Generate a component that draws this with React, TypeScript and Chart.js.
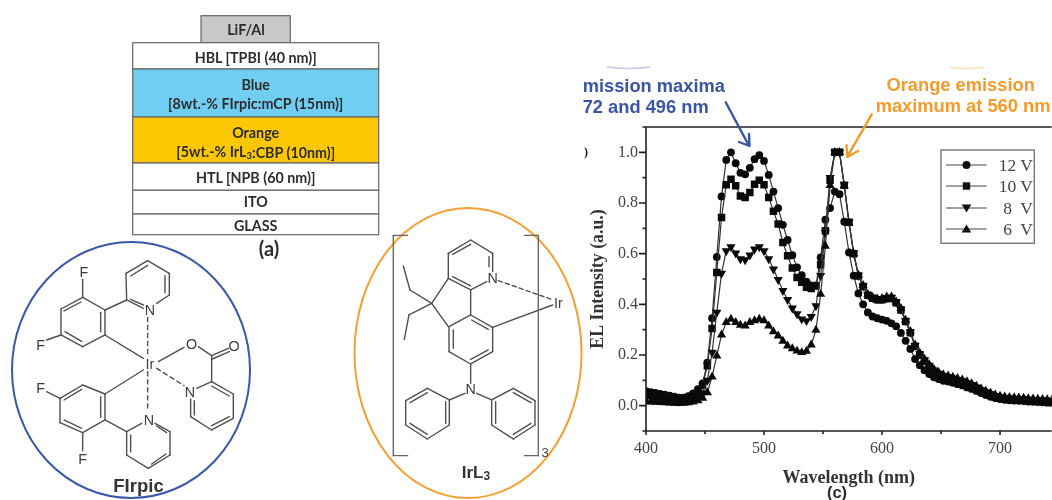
import React, { useEffect, useRef } from "react";
import { Chart, registerables } from "chart.js";

Chart.register(...registerables);

const wavelengths = [
  400, 404, 408, 412, 416, 420, 424, 428, 432, 436, 440, 444, 448, 452, 456, 460, 464, 468, 472, 476, 480, 484,
  488, 492, 496, 500, 504, 508, 512, 516, 520, 524, 528, 532, 536, 540, 544, 548, 552, 556, 560, 564, 568, 572,
  576, 580, 584, 588, 592, 596, 600, 604, 608, 612, 616, 620, 624, 628, 632, 636, 640, 644, 648, 652, 656, 660,
  664, 668, 672, 676, 680, 684, 688, 692, 696, 700, 704, 708, 712, 716, 720, 724, 728, 732, 736, 740, 744,
];
const v12 = [
  0.057, 0.053, 0.05, 0.046, 0.043, 0.04, 0.036, 0.032, 0.032, 0.038, 0.048, 0.065, 0.088, 0.17, 0.345, 0.587, 0.826, 0.97, 1.0, 0.957, 0.919, 0.913,
  0.939, 0.973, 0.989, 0.966, 0.911, 0.845, 0.78, 0.714, 0.654, 0.594, 0.546, 0.515, 0.49, 0.475, 0.475, 0.585, 0.734, 0.78, 0.845, 0.835, 0.726, 0.605,
  0.513, 0.443, 0.4, 0.368, 0.352, 0.345, 0.34, 0.335, 0.325, 0.313, 0.287, 0.256, 0.224, 0.184, 0.16, 0.14, 0.125, 0.112, 0.105, 0.098, 0.095, 0.09,
  0.085, 0.08, 0.072, 0.066, 0.058, 0.05, 0.042, 0.035, 0.03, 0.026, 0.023, 0.021, 0.02, 0.019, 0.018, 0.016, 0.015, 0.014, 0.013, 0.012, 0.011,
];
const v10 = [
  0.047, 0.044, 0.041, 0.038, 0.035, 0.032, 0.029, 0.027, 0.028, 0.033, 0.042, 0.056, 0.08, 0.158, 0.305, 0.526, 0.743, 0.872, 0.894, 0.868, 0.828, 0.822,
  0.841, 0.874, 0.89, 0.872, 0.822, 0.767, 0.717, 0.644, 0.592, 0.543, 0.506, 0.487, 0.467, 0.462, 0.472, 0.556, 0.69, 0.89, 1.0, 1.0, 0.87, 0.724,
  0.6, 0.512, 0.47, 0.436, 0.424, 0.418, 0.418, 0.422, 0.424, 0.406, 0.378, 0.332, 0.288, 0.235, 0.2, 0.176, 0.155, 0.135, 0.122, 0.113, 0.108, 0.103,
  0.098, 0.092, 0.084, 0.077, 0.068, 0.058, 0.049, 0.041, 0.035, 0.03, 0.027, 0.025, 0.024, 0.023, 0.022, 0.02, 0.019, 0.018, 0.017, 0.016, 0.015,
];
const v8 = [
  0.032, 0.03, 0.027, 0.025, 0.023, 0.021, 0.019, 0.017, 0.018, 0.021, 0.026, 0.034, 0.05, 0.1, 0.21, 0.368, 0.522, 0.611, 0.627, 0.602, 0.579, 0.575,
  0.594, 0.618, 0.627, 0.611, 0.579, 0.539, 0.497, 0.454, 0.418, 0.385, 0.362, 0.342, 0.335, 0.351, 0.394, 0.513, 0.684, 0.9, 1.0, 1.0, 0.872, 0.726,
  0.602, 0.514, 0.472, 0.438, 0.426, 0.42, 0.42, 0.426, 0.426, 0.408, 0.38, 0.335, 0.29, 0.237, 0.204, 0.18, 0.158, 0.14, 0.127, 0.118, 0.113, 0.108,
  0.103, 0.097, 0.09, 0.082, 0.072, 0.062, 0.053, 0.045, 0.038, 0.034, 0.03, 0.029, 0.028, 0.027, 0.026, 0.024, 0.023, 0.022, 0.021, 0.02, 0.019,
];
const v6 = [
  0.016, 0.015, 0.014, 0.013, 0.012, 0.011, 0.01, 0.009, 0.01, 0.012, 0.015, 0.02, 0.03, 0.052, 0.114, 0.197, 0.28, 0.329, 0.342, 0.329, 0.318, 0.315,
  0.329, 0.336, 0.342, 0.336, 0.315, 0.292, 0.276, 0.255, 0.236, 0.225, 0.216, 0.21, 0.215, 0.24, 0.298, 0.44, 0.63, 0.87, 1.0, 1.0, 0.868, 0.722,
  0.6, 0.516, 0.475, 0.44, 0.428, 0.422, 0.424, 0.43, 0.43, 0.41, 0.384, 0.338, 0.294, 0.24, 0.208, 0.184, 0.162, 0.144, 0.132, 0.122, 0.118, 0.113,
  0.108, 0.102, 0.095, 0.087, 0.077, 0.067, 0.058, 0.05, 0.043, 0.038, 0.035, 0.033, 0.032, 0.031, 0.03, 0.028, 0.027, 0.026, 0.025, 0.024, 0.023,
];
const seriesNames = ["12 V", "10 V", "8  V", "6  V"];

const INK = "#2c2c2c";
const SERIF = "'Liberation Serif', serif";
const SANS = "'Liberation Sans', sans-serif";
const CAL = "Lato, sans-serif";

const toPoints = (vals: number[]) => wavelengths.map((x, i) => ({ x, y: vals[i] }));

const frameAndTicks = {
  id: "frameAndTicks",
  afterDraw(chart: any) {
    const { ctx, chartArea: a, scales } = chart;
    ctx.save();
    ctx.strokeStyle = "#222";
    ctx.lineWidth = 1.6;
    ctx.beginPath();
    ctx.moveTo(a.left, a.top);
    ctx.lineTo(a.right, a.top);
    ctx.moveTo(a.left, a.top);
    ctx.lineTo(a.left, a.bottom);
    ctx.moveTo(a.left, a.bottom);
    ctx.lineTo(a.right, a.bottom);
    scales.x.ticks.forEach((t: any) => {
      const px = scales.x.getPixelForValue(t.value);
      ctx.moveTo(px, a.bottom);
      ctx.lineTo(px, a.bottom + (t.value % 100 === 0 ? 4 : 3));
    });
    scales.y.ticks.forEach((t: any) => {
      const py = scales.y.getPixelForValue(t.value);
      const major = Math.abs(Math.round(t.value * 10)) % 2 === 0;
      ctx.moveTo(a.left, py);
      ctx.lineTo(a.left - (major ? 7 : 3.5), py);
    });
    ctx.stroke();
    ctx.restore();
  },
};

const benzene = (p: number[][]) => p.map((q, i) => [...q, ...p[(i + 1) % p.length]]);

const firpicBonds: number[][] = [
  ...benzene([[248, 172], [315, 210], [315, 285], [248, 320], [183, 285], [183, 207]]),
  [192, 213, 243, 186], [302, 217, 302, 275], [195, 275, 245, 304],
  [248, 172, 248, 118], [183, 285, 140, 300],
  [380, 180, 378, 100], [378, 100, 443, 62], [443, 62, 508, 100], [508, 100, 508, 165], [508, 165, 470, 190], [380, 180, 430, 205],
  [392, 108, 443, 76], [495, 108, 495, 158], [392, 178, 430, 195],
  [315, 210, 380, 180],
  [315, 285, 430, 355], [315, 462, 430, 390],
  [475, 365, 552, 322], [595, 320, 635, 347], [635, 347, 685, 325], [637, 357, 688, 335], [635, 347, 635, 425],
  [590, 445, 635, 425], [635, 425, 700, 462], [700, 462, 700, 535], [700, 535, 635, 570], [635, 570, 572, 530], [572, 530, 572, 478],
  [635, 438, 688, 468], [688, 530, 635, 557], [583, 525, 583, 482],
  ...benzene([[248, 435], [315, 462], [315, 540], [248, 578], [180, 548], [180, 475]]),
  [192, 480, 245, 448], [302, 470, 302, 532], [192, 540, 245, 565],
  [180, 475, 140, 455], [248, 578, 248, 632],
  [315, 540, 380, 575], [380, 575, 425, 550], [465, 550, 510, 575], [510, 575, 510, 645], [510, 645, 445, 685], [445, 685, 380, 645], [380, 645, 380, 575],
  [392, 585, 392, 635], [455, 672, 498, 642], [470, 558, 500, 578],
];
const firpicDashes: number[][] = [[443, 232, 443, 350], [443, 395, 443, 515], [470, 385, 552, 437]];
const firpicAtoms: [string, number, number][] = [
  ["F", 252, 95], ["F", 122, 315], ["N", 450, 210], ["Ir", 450, 373], ["O", 575, 313], ["O", 702, 318],
  ["N", 570, 457], ["F", 122, 443], ["N", 447, 540], ["F", 248, 658],
];

const irlBonds: number[][] = [
  [325, 130, 392, 90], [392, 90, 458, 130], [458, 130, 458, 185], [440, 215, 392, 240], [392, 240, 325, 205], [325, 205, 325, 130],
  [338, 133, 392, 103], [447, 140, 447, 170], [338, 200, 392, 228],
  [325, 205, 275, 280], [275, 280, 325, 350], [392, 240, 392, 315],
  ...benzene([[392, 315], [458, 352], [458, 425], [392, 462], [327, 425], [327, 350]]),
  [395, 330, 445, 358], [340, 360, 340, 415], [392, 448, 445, 420],
  [275, 280, 210, 240], [210, 240, 190, 168], [275, 280, 207, 315], [207, 315, 193, 388],
  [458, 352, 638, 285], [392, 462, 392, 520], [375, 550, 328, 570], [410, 550, 455, 570],
  ...benzene([[328, 570], [262, 535], [197, 572], [197, 645], [262, 687], [328, 645]]),
  [262, 548, 210, 578], [210, 640, 262, 673], [317, 575, 317, 640],
  ...benzene([[455, 570], [520, 535], [585, 572], [585, 645], [520, 687], [455, 645]]),
  [520, 548, 573, 578], [573, 640, 520, 673], [467, 575, 467, 640],
];
const irlBrackets: number[][] = [
  [203, 76, 160, 76], [160, 76, 160, 737], [160, 737, 203, 737],
  [553, 76, 595, 76], [595, 76, 595, 737], [595, 737, 553, 737],
];
const irlAtoms: [string, number, number][] = [["N", 458, 205], ["Ir", 655, 278], ["N", 392, 537]];

type Seg = number[];
const Lines = ({ segs, color = "#4f4f4f", w = 4.2, dash }: { segs: Seg[]; color?: string; w?: number; dash?: string }) => (
  <g stroke={color} strokeWidth={w} strokeDasharray={dash} fill="none" strokeLinecap="round">
    {segs.map((s, i) => (
      <line key={i} x1={s[0]} y1={s[1]} x2={s[2]} y2={s[3]} />
    ))}
  </g>
);
const Atoms = ({ atoms }: { atoms: [string, number, number][] }) => (
  <g fontFamily={SANS} fontSize={43} fill="#3c3c3c" textAnchor="middle" dominantBaseline="central">
    {atoms.map((a, i) => (
      <text key={i} x={a[1]} y={a[2]}>
        {a[0]}
      </text>
    ))}
  </g>
);

const layers: { y0: number; y1: number; fill: string; text: [string, number][] }[] = [
  { y0: 42.7, y1: 69, fill: "#ffffff", text: [["HBL [TPBI (40 nm)]", 57]] },
  { y0: 69, y1: 117, fill: "#70cef3", text: [["Blue", 84], ["[8wt.-% FIrpic:mCP (15nm)]", 103.7]] },
  { y0: 117, y1: 163, fill: "#fdc803", text: [["Orange", 132.3]] },
  { y0: 163, y1: 190.3, fill: "#ffffff", text: [["HTL [NPB (60 nm)]", 177.3]] },
  { y0: 190.3, y1: 214, fill: "#ffffff", text: [["ITO", 201]] },
  { y0: 214, y1: 234.7, fill: "#ffffff", text: [["GLASS", 225]] },
];

const Marker = ({ i, x, y }: { i: number; x: number; y: number }) => {
  if (i === 0) return <circle cx={x} cy={y} r={4} fill="#111" />;
  if (i === 1) return <rect x={x - 3.7} y={y - 3.7} width={7.4} height={7.4} fill="#111" />;
  if (i === 2) return <path d={`M${x - 4.8} ${y - 3.5}L${x + 4.8} ${y - 3.5}L${x} ${y + 4.5}Z`} fill="#111" />;
  return <path d={`M${x - 4.8} ${y + 3.5}L${x + 4.8} ${y + 3.5}L${x} ${y - 4.5}Z`} fill="#111" />;
};

const legendRows = [165, 186, 208, 229];
const STACK = 14.3;

const Overlay = () => (
  <svg width={1052} height={500} style={{ position: "absolute", left: 0, top: 0, pointerEvents: "none" }}>
    <rect x={201} y={15.7} width={89.3} height={27} fill="#c8c8c8" stroke="#666" strokeWidth={1.2} />
    <text x={246} y={29.5} fontFamily={CAL} fontWeight={700} fontSize={STACK} fill={INK} textAnchor="middle" dominantBaseline="central">
      LiF/Al
    </text>
    {layers.map((l, i) => (
      <g key={i}>
        <rect x={132.7} y={l.y0} width={246} height={l.y1 - l.y0} fill={l.fill} stroke="#666" strokeWidth={1.2} />
        {l.text.map((t, j) => (
          <text key={j} x={255.7} y={t[1]} fontFamily={CAL} fontWeight={700} fontSize={STACK} fill={INK} textAnchor="middle" dominantBaseline="central">
            {t[0]}
          </text>
        ))}
      </g>
    ))}
    <text x={255.7} y={151.7} fontFamily={CAL} fontWeight={700} fontSize={STACK} fill={INK} textAnchor="middle" dominantBaseline="central">
      [5wt.-% IrL<tspan fontSize={9.5} dy={3}>3</tspan><tspan dy={-3}>:CBP (10nm)]</tspan>
    </text>
    <text x={269} y={248} fontFamily={CAL} fontWeight={700} fontSize={20} fill={INK} textAnchor="middle" dominantBaseline="central">
      (a)
    </text>

    <ellipse cx={131} cy={370} rx={119} ry={128} fill="none" stroke="#3a57a8" strokeWidth={2} />
    <g transform="translate(0,240) scale(0.3333)">
      <Lines segs={firpicBonds} />
      <Lines segs={firpicDashes} dash="13 11" />
      <Atoms atoms={firpicAtoms} />
    </g>
    <text x={138.5} y={485} fontFamily={SANS} fontWeight={700} fontSize={18.5} fill="#333" textAnchor="middle" dominantBaseline="central">
      FIrpic
    </text>

    <ellipse cx={468} cy={353} rx={113.5} ry={145} fill="none" stroke="#f5a033" strokeWidth={2} />
    <g transform="translate(340,210) scale(0.3333)">
      <Lines segs={irlBonds} />
      <Lines segs={irlBrackets} color="#666" />
      <Lines segs={[[475, 212, 640, 270]]} dash="13 9" />
      <Atoms atoms={irlAtoms} />
    </g>
    <text x={545} y={452} fontFamily={SANS} fontSize={13} fill="#444" textAnchor="middle" dominantBaseline="central">
      3
    </text>
    <text x={476} y={472} fontFamily={SANS} fontWeight={700} fontSize={17} fill="#333" textAnchor="middle" dominantBaseline="central">
      IrL<tspan fontSize={12} dy={4}>3</tspan>
    </text>

    <path d="M607 67Q628 70 650 67" fill="none" stroke="#3a57a8" strokeWidth={1.5} opacity={0.3} />
    <path d="M950 67Q968 70 985 67" fill="none" stroke="#f5a033" strokeWidth={1.5} opacity={0.3} />
    <g fontFamily={SANS} fontWeight={700} fontSize={18.3} fill="#3b55a5">
      <text x={582.7} y={92}>mission maxima</text>
      <text x={582.7} y={113}>72 and 496 nm</text>
    </g>
    <g fontFamily={SANS} fontWeight={700} fontSize={18.3} fill="#f59b2c">
      <text x={960.7} y={91} textAnchor="middle">Orange emission</text>
      <text x={875.7} y={112}>maximum at 560 nm</text>
    </g>
    <g fill="none" strokeLinecap="round" strokeLinejoin="round" strokeWidth={2.4}>
      <path d="M725.7 102.3L749 145.7M739 142L749.5 146L749 134" stroke="#3b55a5" />
      <path d="M871.7 114.3L847.3 156.7M846.5 145L847.3 157L858 151" stroke="#f59b2c" />
    </g>
    <text x={584} y={156} fontFamily={SERIF} fontWeight={700} fontSize={12} fill="#111">)</text>

    <rect x={941} y={150} width={93.3} height={93.3} fill="#fff" stroke="#777" strokeWidth={1.4} />
    {seriesNames.map((n, i) => (
      <g key={n}>
        <line x1={946} x2={986.7} y1={legendRows[i]} y2={legendRows[i]} stroke="#444" strokeWidth={1} />
        <Marker i={i} x={966.5} y={legendRows[i]} />
        <text x={1033} y={legendRows[i] + 5.5} fontFamily={SERIF} fontSize={17.5} fill="#444" textAnchor="end" xmlSpace="preserve">
          {n}
        </text>
      </g>
    ))}
    <text x={837} y={498} fontFamily={SANS} fontWeight={700} fontSize={16.5} fill={INK} textAnchor="middle">
      (c)
    </text>
  </svg>
);

export default function App() {
  const ref = useRef<HTMLCanvasElement>(null);
  useEffect(() => {
    const common = { borderColor: "#333", backgroundColor: "#0a0a0a", borderWidth: 1.2, showLine: true, tension: 0, pointBorderWidth: 0 };
    const chart = new Chart(ref.current as HTMLCanvasElement, {
      type: "line",
      data: {
        datasets: [
          { ...common, label: seriesNames[3], data: toPoints(v6), pointStyle: "triangle", pointRadius: 5.3 },
          { ...common, label: seriesNames[2], data: toPoints(v8), pointStyle: "triangle", pointRotation: 180, pointRadius: 5.3 },
          { ...common, label: seriesNames[1], data: toPoints(v10), pointStyle: "rect", pointRadius: 5.3 },
          { ...common, label: seriesNames[0], data: toPoints(v12), pointStyle: "circle", pointRadius: 3.9 },
        ] as any,
      },
      options: {
        responsive: false,
        animation: false,
        devicePixelRatio: 1,
        layout: { padding: { left: 580, top: 127, right: 0, bottom: 0 } },
        plugins: { legend: { display: false }, tooltip: { enabled: false } },
        scales: {
          x: {
            type: "linear",
            min: 400,
            max: 743.8,
            afterFit: (s: any) => { s.height = 69; s.paddingRight = 0; s.paddingLeft = 0; },
            grid: { display: false, drawTicks: false },
            border: { display: false },
            ticks: {
              stepSize: 50,
              includeBounds: false,
              autoSkip: false,
              maxRotation: 0,
              padding: 8,
              color: "#444",
              font: { family: SERIF, size: 16 },
              callback: (v: any) => (Number(v) % 100 === 0 ? String(v) : ""),
            },
            title: { display: true, text: "Wavelength (nm)", color: "#333", padding: { top: 0, bottom: 11 }, font: { family: SERIF, size: 18, weight: "bold" } },
          },
          y: {
            min: -0.1,
            max: 1.1,
            afterFit: (s: any) => { s.width = 66; s.paddingTop = 0; s.paddingBottom = 0; },
            grid: { display: false, drawTicks: false },
            border: { display: false },
            ticks: {
              stepSize: 0.1,
              autoSkip: false,
              padding: 8,
              color: "#444",
              font: { family: SERIF, size: 16 },
              callback: (v: any) => (Math.abs(Math.round(Number(v) * 10)) % 2 === 0 ? Math.abs(Number(v)).toFixed(1) : ""),
            },
            title: { display: true, text: "EL Intensity (a.u.)", color: "#333", padding: { top: 8, bottom: 0 }, font: { family: SERIF, size: 17.8, weight: "bold" } },
          },
        },
      } as any,
      plugins: [frameAndTicks],
    });
    return () => chart.destroy();
  }, []);
  return (
    <div style={{ position: "absolute", left: 0, top: 0, width: 1052, height: 500, overflow: "hidden", background: "#fff" }}>
      <canvas ref={ref} width={1057} height={500} style={{ position: "absolute", left: 0, top: 0 }} />
      <Overlay />
    </div>
  );
}
